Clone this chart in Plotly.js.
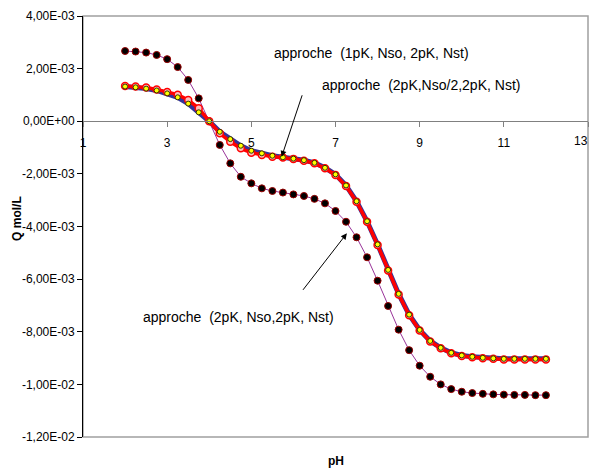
<!DOCTYPE html>
<html>
<head>
<meta charset="utf-8">
<script src="https://cdn.plot.ly/plotly-3.0.1.min.js"></script>
<style>html,body{margin:0;padding:0;background:#fff;}#chart{width:591px;height:470px;}</style>
</head>
<body>
<div id="chart"></div>
<script>
// pH values
var pH = [2,2.25,2.5,2.75,3,3.25,3.5,3.75,4,4.25,4.5,4.75,5,5.25,5.5,5.75,6,6.25,6.5,6.75,7,7.25,7.5,7.75,8,8.25,8.5,8.75,9,9.25,9.5,9.75,10,10.25,10.5,10.75,11,11.25,11.5,11.75,12];

// approche (2pK, Nso,2pK, Nst)  -- purple
var q2pkNso = [0.00267,0.00265,0.00261,0.00252,0.00236,0.00206,0.00157,0.00087,0.00000,-0.00090,-0.00160,-0.00211,-0.00236,-0.00255,-0.00265,-0.00271,-0.00278,-0.00284,-0.00295,-0.00312,-0.00341,-0.00382,-0.00441,-0.00517,-0.00606,-0.00702,-0.00792,-0.00870,-0.00929,-0.00971,-0.01000,-0.01018,-0.01028,-0.01033,-0.01036,-0.01038,-0.01039,-0.01040,-0.01040,-0.01041,-0.01041];

// approche (2pK,Nso/2,2pK, Nst)  -- red
var q2pkNso2 = [0.00134,0.00132,0.00128,0.00121,0.00111,0.00101,0.00081,0.00049,0.00000,-0.00046,-0.00078,-0.00103,-0.00120,-0.00128,-0.00135,-0.00138,-0.00143,-0.00150,-0.00160,-0.00179,-0.00204,-0.00246,-0.00306,-0.00382,-0.00470,-0.00567,-0.00658,-0.00737,-0.00795,-0.00837,-0.00863,-0.00882,-0.00892,-0.00897,-0.00901,-0.00903,-0.00905,-0.00905,-0.00905,-0.00905,-0.00905];

// approche (1pK, Nso, 2pK, Nst)  -- blue line, yellow markers
var q1pk = [0.00132,0.00129,0.00124,0.00117,0.00106,0.00091,0.00067,0.00034,0.00000,-0.00040,-0.00068,-0.00093,-0.00112,-0.00122,-0.00131,-0.00137,-0.00142,-0.00148,-0.00158,-0.00177,-0.00202,-0.00244,-0.00304,-0.00380,-0.00468,-0.00565,-0.00656,-0.00735,-0.00793,-0.00835,-0.00861,-0.00880,-0.00890,-0.00895,-0.00899,-0.00901,-0.00903,-0.00903,-0.00903,-0.00903,-0.00903];

var yTickVals = [-0.012,-0.010,-0.008,-0.006,-0.004,-0.002,0,0.002,0.004];
var yTickText = ['-1,20E-02','-1,00E-02','-8,00E-03','-6,00E-03','-4,00E-03','-2,00E-03','0,00E+00','2,00E-03','4,00E-03'];
var xTickVals = [1,3,5,7,9,11];
var xTickText = ['1','3','5','7','9','11'];
var xLastTick = '13';

var labels = ['approche  (1pK, Nso, 2pK, Nst)','approche  (2pK,Nso/2,2pK, Nst)','approche  (2pK, Nso,2pK, Nst)'];

var traces = [
  {x:pH, y:q1pk, mode:'lines', line:{color:'#333399', width:5}, hoverinfo:'skip', showlegend:false},
  {x:pH, y:q2pkNso, mode:'lines+markers', line:{color:'#993399', width:1},
   marker:{symbol:'circle', size:7, color:'#000000', line:{color:'#990000', width:1}}, name:labels[2], showlegend:false},
  {x:pH, y:q2pkNso2, mode:'lines+markers', line:{color:'#ff0000', width:3.5},
   marker:{symbol:'circle', size:7, color:'#ffbbbb', line:{color:'#ff0000', width:1.5}}, name:labels[1], showlegend:false},
  {x:pH, y:q1pk, mode:'markers',
   marker:{symbol:'circle', size:5, color:'#ffff00', line:{color:'#333300', width:1}}, name:labels[0], showlegend:false}
];

var fontFam = 'Arial, "Liberation Sans", sans-serif';

var layout = {
  width:591, height:470,
  margin:{l:83, r:3, t:16, b:33},
  paper_bgcolor:'#ffffff', plot_bgcolor:'#ffffff',
  font:{family:fontFam, size:12, color:'#000'},
  showlegend:false,
  xaxis:{
    range:[1,13], tickvals:xTickVals.concat([13]), ticktext:xTickText.concat(['']),
    showgrid:false, zeroline:false,
    showline:true, linecolor:'#808080', linewidth:1,
    ticks:'outside', ticklen:5, tickcolor:'#808080',
    anchor:'free', position:0.75,
    ticklabelstandoff:5,
    tickfont:{size:12, family:fontFam},
    title:{text:''}
  },
  yaxis:{
    range:[-0.012,0.004], tickvals:yTickVals, ticktext:yTickText,
    showgrid:false, zeroline:false,
    showline:true, linecolor:'#000000', linewidth:1,
    ticks:'outside', ticklen:5, tickcolor:'#000',
    tickfont:{size:12, family:fontFam},
    title:{text:''}
  },
  shapes:[
    {type:'rect', xref:'paper', yref:'paper', x0:0, x1:1, y0:0, y1:1, line:{color:'#a0a0a0', width:1.5}, layer:'below'}
  ],
  annotations:[
    {xref:'x', yref:'y', x:7.86, y:0.00259, text:labels[0], showarrow:false, font:{size:14, family:fontFam}},
    {xref:'x', yref:'y', x:9.03, y:0.00138, text:labels[1], showarrow:false, font:{size:14, family:fontFam}},
    {xref:'x', yref:'y', x:4.69, y:-0.00743, text:labels[2], showarrow:false, font:{size:14, family:fontFam}},
    {xref:'x', yref:'y', x:5.72, y:-0.00135, text:'', showarrow:true, ax:21, ay:-63, arrowhead:2, arrowsize:1.2, arrowwidth:1, arrowcolor:'#000'},
    {xref:'x', yref:'y', x:7.27, y:-0.00426, text:'', showarrow:true, ax:-45, ay:58, arrowhead:2, arrowsize:1.2, arrowwidth:1, arrowcolor:'#000'},
    {xref:'x', yref:'y', x:13, y:0, yshift:-20, xshift:2, text:xLastTick, showarrow:false, xanchor:'right', yanchor:'middle', font:{size:12, family:fontFam}},
    {xref:'paper', yref:'paper', x:-0.131, y:0.52, text:'<b>Q mol/L</b>', textangle:-90, showarrow:false, font:{size:12, family:fontFam}, xanchor:'center', yanchor:'middle'},
    {xref:'paper', yref:'paper', x:0.5, y:-0.057, text:'<b>pH</b>', showarrow:false, font:{size:12, family:fontFam}, xanchor:'center', yanchor:'middle'}
  ]
};

Plotly.newPlot('chart', traces, layout, {displayModeBar:false, staticPlot:true});
</script>
</body>
</html>
